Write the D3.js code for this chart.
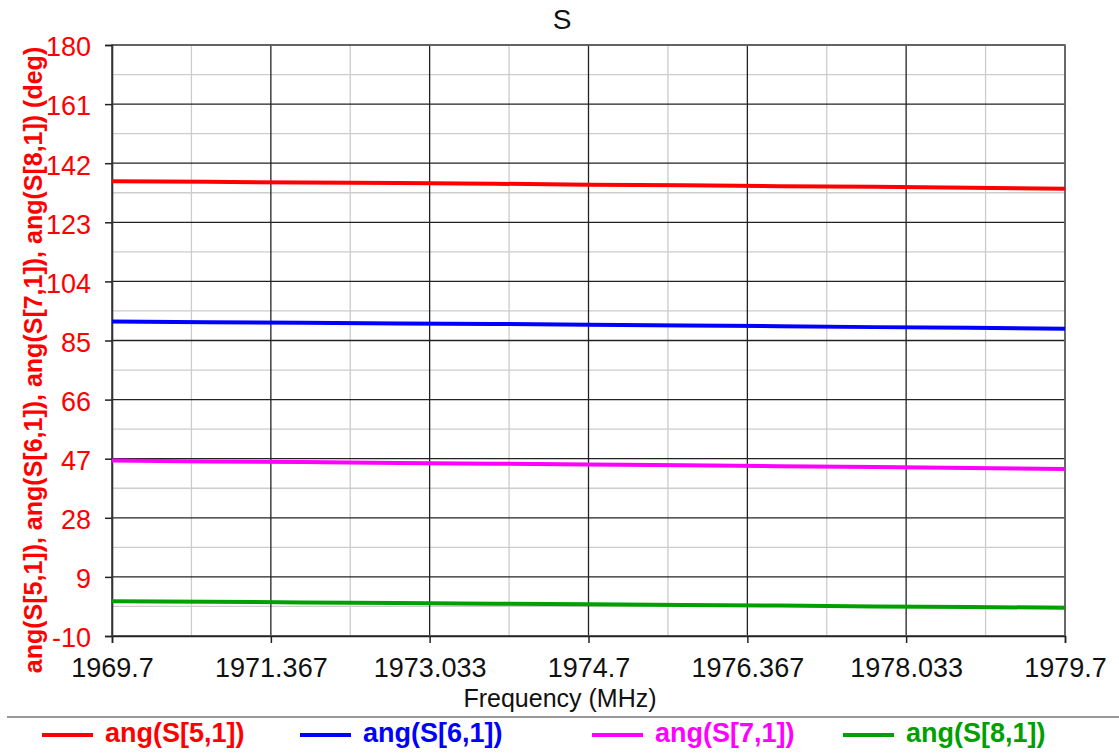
<!DOCTYPE html>
<html>
<head>
<meta charset="utf-8">
<script src="https://cdn.jsdelivr.net/npm/d3@7"></script>
<style>
  body { margin: 0; background: #fff; }
  svg { display: block; font-family: "Liberation Sans", Arial, sans-serif; }
</style>
</head>
<body>
<svg class="s-chart" width="1119" height="753"></svg>
<script>
"use strict";

// frequency points (MHz)
var freqs = [1969.7, 1970.7, 1971.7, 1972.7, 1973.7, 1974.7, 1975.7, 1976.7, 1977.7, 1978.7, 1979.7];
// phase values (deg)
var s51 = [136.2, 136.0, 135.8, 135.6, 135.4, 135.1, 134.9, 134.6, 134.4, 134.1, 133.8];
var s61 = [91.1, 90.9, 90.7, 90.5, 90.3, 90.1, 89.8, 89.6, 89.3, 89.1, 88.8];
var s71 = [46.4, 46.1, 45.9, 45.6, 45.4, 45.1, 44.9, 44.6, 44.3, 44.0, 43.7];
var s81 = [1.2, 1.0, 0.8, 0.6, 0.4, 0.2, 0.0, -0.2, -0.5, -0.7, -0.9];

var seriesNames = ["ang(S[5,1])", "ang(S[6,1])", "ang(S[7,1])", "ang(S[8,1])"];
var seriesColors = ["#ff0000", "#0000ff", "#ff00ff", "#00a000"];

var xTicks = [1969.7, 1971.367, 1973.033, 1974.7, 1976.367, 1978.033, 1979.7];
var yTicks = [-10, 9, 28, 47, 66, 85, 104, 123, 142, 161, 180];

function drawChart() {
    var svg = d3.select("svg.s-chart");
    var margin = { top: 45, right: 54, bottom: 117, left: 112 };
    var width = +svg.attr("width") - margin.left - margin.right;
    var height = +svg.attr("height") - margin.top - margin.bottom;
    var g = svg.append("g").attr("transform", "translate(" + margin.left + ", " + margin.top + ")");

    var x = d3.scaleLinear().domain([1969.7, 1979.7]).range([0, width]);
    var y = d3.scaleLinear().domain([-10, 180]).range([height, 0]);

    // minor grid at the midpoints
    var xMinor = xTicks.slice(1).map(function (t, i) { return (t + xTicks[i]) / 2; });
    var yMinor = yTicks.slice(1).map(function (t, i) { return (t + yTicks[i]) / 2; });

    g.append("g").selectAll("line").data(xMinor).enter().append("line")
        .attr("x1", function (d) { return x(d); }).attr("x2", function (d) { return x(d); })
        .attr("y1", 0).attr("y2", height)
        .attr("stroke", "#cccccc").attr("stroke-width", 1.3);
    g.append("g").selectAll("line").data(yMinor).enter().append("line")
        .attr("x1", 0).attr("x2", width)
        .attr("y1", function (d) { return y(d); }).attr("y2", function (d) { return y(d); })
        .attr("stroke", "#cccccc").attr("stroke-width", 1.3);

    // major grid
    g.append("g").selectAll("line").data(xTicks).enter().append("line")
        .attr("x1", function (d) { return x(d); }).attr("x2", function (d) { return x(d); })
        .attr("y1", 0).attr("y2", height)
        .attr("stroke", "#222").attr("stroke-width", 1.3);
    g.append("g").selectAll("line").data(yTicks).enter().append("line")
        .attr("x1", 0).attr("x2", width)
        .attr("y1", function (d) { return y(d); }).attr("y2", function (d) { return y(d); })
        .attr("stroke", "#222").attr("stroke-width", 1.3);

    // frame
    g.append("rect").attr("width", width).attr("height", height)
        .attr("fill", "none").attr("stroke", "#666").attr("stroke-width", 1.6);

    // axes
    var xAxis = g.append("g").attr("transform", "translate(0, " + height + ")")
        .call(d3.axisBottom(x).tickValues(xTicks).tickSize(7).tickPadding(15)
            .tickFormat(function (d, i) { return xTicks[i]; }));
    xAxis.select(".domain").attr("stroke", "#222").attr("stroke-width", 1.5);
    xAxis.selectAll(".tick line").attr("stroke", "#222").attr("stroke-width", 1.5);
    xAxis.selectAll(".tick text").attr("fill", "#111").attr("font-size", "27px")
        .attr("font-family", "Liberation Sans, Arial, sans-serif");

    var yAxis = g.append("g")
        .call(d3.axisLeft(y).tickValues(yTicks).tickSize(7).tickPadding(14)
            .tickFormat(function (d) { return String(d); }));
    yAxis.select(".domain").attr("stroke", "#333").attr("stroke-width", 1.6);
    yAxis.selectAll(".tick line").attr("stroke", "#222").attr("stroke-width", 1.5);
    yAxis.selectAll(".tick text").attr("fill", "#ff0000").attr("font-size", "27px")
        .attr("font-family", "Liberation Sans, Arial, sans-serif").attr("dy", "0.4em");

    // series
    var allSeries = [s51, s61, s71, s81];
    var line = d3.line().x(function (d, i) { return x(freqs[i]); }).y(function (d) { return y(d); });
    allSeries.forEach(function (vals, k) {
        g.append("path").datum(vals).attr("d", line)
            .attr("fill", "none").attr("stroke", seriesColors[k]).attr("stroke-width", 4);
    });

    // titles
    svg.append("text").attr("x", 562).attr("y", 29).attr("text-anchor", "middle")
        .attr("font-size", "28px").attr("fill", "#111").text("S");
    svg.append("text").attr("x", 560).attr("y", 707).attr("text-anchor", "middle")
        .attr("font-size", "25px").attr("fill", "#111").text("Frequency (MHz)");
    svg.append("text").attr("transform", "translate(42, 360) rotate(-90)")
        .attr("text-anchor", "middle").attr("font-size", "25px").attr("font-weight", "bold")
        .attr("fill", "#ff0000")
        .text(seriesNames.join(", ") + " (deg)");

    // legend
    svg.append("line").attr("x1", 7).attr("x2", 1119).attr("y1", 717).attr("y2", 717)
        .attr("stroke", "#777").attr("stroke-width", 1.5);
    var legendX = [42, 300, 592, 843];
    var legend = svg.append("g").selectAll("g").data(seriesNames).enter().append("g")
        .attr("transform", function (d, i) { return "translate(" + legendX[i] + ", 735)"; });
    legend.append("line").attr("x1", 0).attr("x2", 51)
        .attr("stroke", function (d, i) { return seriesColors[i]; }).attr("stroke-width", 4);
    legend.append("text").attr("x", 63).attr("y", 7)
        .attr("font-size", "27px").attr("font-weight", "bold")
        .attr("fill", function (d, i) { return seriesColors[i]; })
        .text(function (d) { return d; });
}

drawChart();
</script>
</body>
</html>
